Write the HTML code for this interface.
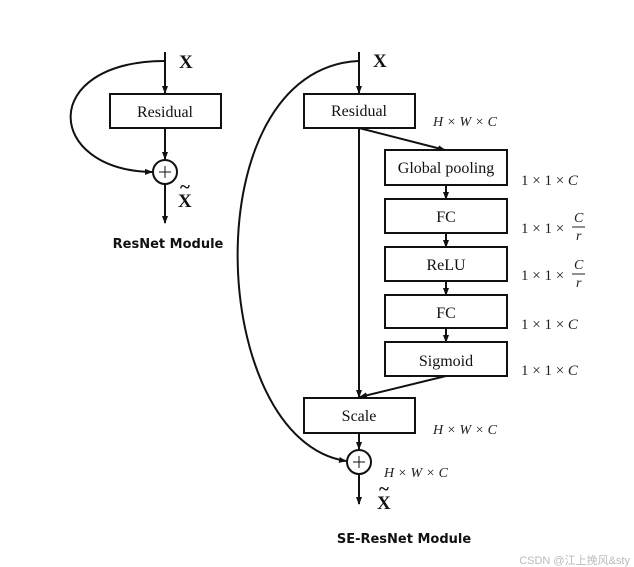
<!DOCTYPE html>
<html><head><meta charset="utf-8"><style>
html,body{margin:0;padding:0;background:#fff;}
svg{display:block;}
.b{font-family:"Liberation Serif",serif;font-size:16px;fill:#111;}
.i{font-family:"Liberation Serif",serif;font-size:14px;font-style:italic;fill:#222;}
.n{font-family:"Liberation Serif",serif;font-size:15px;fill:#222;}
.x{font-family:"Liberation Serif",serif;font-size:19px;font-weight:bold;fill:#111;}
.t{font-family:"DejaVu Sans","Liberation Sans",sans-serif;font-size:13px;font-weight:bold;fill:#111;}
</style></head><body>
<svg width="634" height="567" viewBox="0 0 634 567" xmlns="http://www.w3.org/2000/svg">
<defs><marker id="a" markerWidth="8" markerHeight="8" refX="7" refY="4" orient="auto" markerUnits="userSpaceOnUse"><path d="M0,1 L8,4 L0,7 z" fill="#111"/></marker></defs>
<g stroke="#111" stroke-width="2" fill="none">
<line x1="165" y1="52" x2="165" y2="93" marker-end="url(#a)"/>
<rect x="110" y="94" width="111" height="34" fill="#fff"/>
<line x1="165" y1="128" x2="165" y2="159" marker-end="url(#a)"/>
<circle cx="165" cy="172" r="12"/>
<line x1="159" y1="172" x2="171" y2="172" stroke-width="1"/><line x1="165" y1="166" x2="165" y2="178" stroke-width="1"/>
<line x1="165" y1="184" x2="165" y2="223" marker-end="url(#a)"/>
<path d="M164,61 C38,62 45,170 152,172" marker-end="url(#a)"/>
<line x1="359" y1="52" x2="359" y2="93" marker-end="url(#a)"/>
<rect x="304" y="94" width="111" height="34" fill="#fff"/>
<line x1="359" y1="128" x2="359" y2="397" marker-end="url(#a)"/>
<line x1="359" y1="128" x2="445" y2="150" marker-end="url(#a)"/>
<rect x="385" y="150" width="122" height="35"/>
<line x1="446" y1="185" x2="446" y2="199" marker-end="url(#a)"/>
<rect x="385" y="199" width="122" height="34"/>
<line x1="446" y1="233" x2="446" y2="247" marker-end="url(#a)"/>
<rect x="385" y="247" width="122" height="34"/>
<line x1="446" y1="281" x2="446" y2="295" marker-end="url(#a)"/>
<rect x="385" y="295" width="122" height="33"/>
<line x1="446" y1="328" x2="446" y2="342" marker-end="url(#a)"/>
<rect x="385" y="342" width="122" height="34"/>
<line x1="446" y1="376" x2="360" y2="397" marker-end="url(#a)"/>
<rect x="304" y="398" width="111" height="35" fill="#fff"/>
<line x1="359" y1="433" x2="359" y2="449" marker-end="url(#a)"/>
<circle cx="359" cy="462" r="12"/>
<line x1="353" y1="462" x2="365" y2="462" stroke-width="1"/><line x1="359" y1="456" x2="359" y2="468" stroke-width="1"/>
<line x1="359" y1="474" x2="359" y2="504" marker-end="url(#a)"/>
<path d="M358,61 C192,70 207,440 346,461" marker-end="url(#a)"/>
</g>
<text class="b" x="165" y="117" text-anchor="middle">Residual</text>
<text class="b" x="359" y="116" text-anchor="middle">Residual</text>
<text class="b" x="446" y="173" text-anchor="middle">Global pooling</text>
<text class="b" x="446" y="222" text-anchor="middle">FC</text>
<text class="b" x="446" y="270" text-anchor="middle">ReLU</text>
<text class="b" x="446" y="318" text-anchor="middle">FC</text>
<text class="b" x="446" y="366" text-anchor="middle">Sigmoid</text>
<text class="b" x="359" y="421" text-anchor="middle">Scale</text>
<text class="x" x="179" y="68">X</text>
<text class="x" x="373" y="67">X</text>
<text class="x" x="178" y="207">X</text><text class="x" x="180" y="193" font-size="14">~</text>
<text class="x" x="377" y="509">X</text><text class="x" x="379" y="495" font-size="14">~</text>
<text class="i" x="433" y="126">H × W × C</text>
<text class="i" x="433" y="434">H × W × C</text>
<text class="i" x="384" y="477">H × W × C</text>
<text class="n" x="521" y="185">1 × 1 × <tspan font-style="italic">C</tspan></text>
<text class="n" x="521" y="329">1 × 1 × <tspan font-style="italic">C</tspan></text>
<text class="n" x="521" y="375">1 × 1 × <tspan font-style="italic">C</tspan></text>
<text class="n" x="521" y="233">1 × 1 ×</text>
<text class="i" x="574" y="222" font-size="14">C</text><line x1="572" y1="227" x2="585" y2="227" stroke="#222" stroke-width="1"/><text class="i" x="576" y="240" font-size="14">r</text>
<text class="n" x="521" y="280">1 × 1 ×</text>
<text class="i" x="574" y="269" font-size="14">C</text><line x1="572" y1="274" x2="585" y2="274" stroke="#222" stroke-width="1"/><text class="i" x="576" y="287" font-size="14">r</text>
<text class="t" x="168" y="248" text-anchor="middle">ResNet Module</text>
<text class="t" x="404" y="543" text-anchor="middle">SE-ResNet Module</text>
<text x="630" y="564" text-anchor="end" font-family="'Liberation Sans','Noto Sans CJK SC',sans-serif" font-size="11" fill="#bbb">CSDN @江上挽风&amp;sty</text>
</svg>
</body></html>
